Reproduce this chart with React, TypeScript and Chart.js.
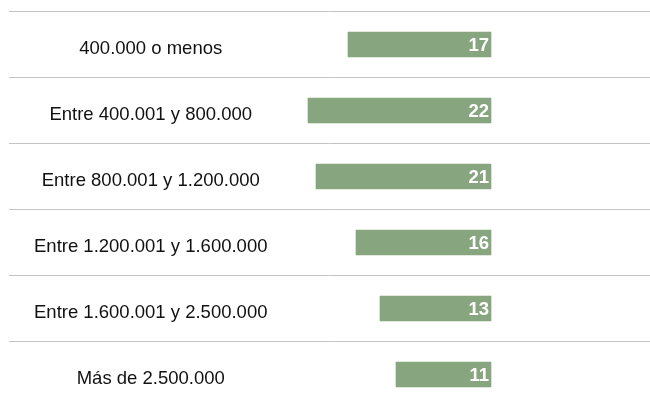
import React, { useEffect, useRef } from "react";
import { Chart, registerables } from "chart.js";

Chart.register(...registerables);

const categories = [
  "400.000 o menos",
  "Entre 400.001 y 800.000",
  "Entre 800.001 y 1.200.000",
  "Entre 1.200.001 y 1.600.000",
  "Entre 1.600.001 y 2.500.000",
  "Más de 2.500.000",
];
const values = [17, 22, 21, 16, 13, 11];

const FONT = '"Liberation Sans", Arial, Helvetica, sans-serif';

const valueLabels = {
  id: "valueLabels",
  afterDatasetsDraw(chart: any) {
    const meta = chart.getDatasetMeta(0);
    const ctx = chart.ctx;
    ctx.save();
    ctx.font = `bold 18.5px ${FONT}`;
    ctx.fillStyle = "#ffffff";
    ctx.textAlign = "right";
    ctx.textBaseline = "middle";
    meta.data.forEach((el: any, i: number) => {
      const { x, y, base } = el.getProps(["x", "y", "base"], true);
      ctx.fillText(String(values[i]), Math.max(x, base) - 2, y + 1);
    });
    ctx.restore();
  },
};

export default function App() {
  const ref = useRef<HTMLCanvasElement>(null);
  useEffect(() => {
    if (!ref.current) return;
    const chart = new Chart(ref.current, {
      type: "bar",
      data: {
        labels: categories,
        datasets: [
          {
            data: values,
            backgroundColor: "#87a67f",
            barThickness: 25,
            base: -0.875,
          } as any,
        ],
      },
      options: {
        indexAxis: "y",
        animation: false,
        responsive: false,
        maintainAspectRatio: false,
        layout: { padding: { left: 9, top: 11.5, right: 0, bottom: 2.5 } },
        plugins: { legend: { display: false }, tooltip: { enabled: false } },
        scales: {
          x: {
            type: "linear",
            reverse: true,
            min: -20.75,
            max: 59.375,
            display: false,
          },
          y: {
            position: "left",
            grid: { color: "#c4c4c4", lineWidth: 1, drawTicks: false, offset: true },
            border: { display: false },
            ticks: {
              mirror: true,
              crossAlign: "center",
              padding: 25,
              labelOffset: 4,
              color: "#111111",
              font: { family: FONT, size: 18.5 },
            },
            afterFit(scale: any) {
              scale.width = 0;
              scale.paddingTop = 0;
              scale.paddingBottom = 0;
              scale.paddingLeft = 0;
              scale.paddingRight = 0;
            },
          },
        },
      } as any,
      plugins: [valueLabels],
    });
    return () => chart.destroy();
  }, []);
  return (
    <div style={{ position: "fixed", left: 0, top: 0, width: 650, height: 410, background: "#fff" }}>
      <canvas ref={ref} width={650} height={410} style={{ display: "block" }} />
    </div>
  );
}
